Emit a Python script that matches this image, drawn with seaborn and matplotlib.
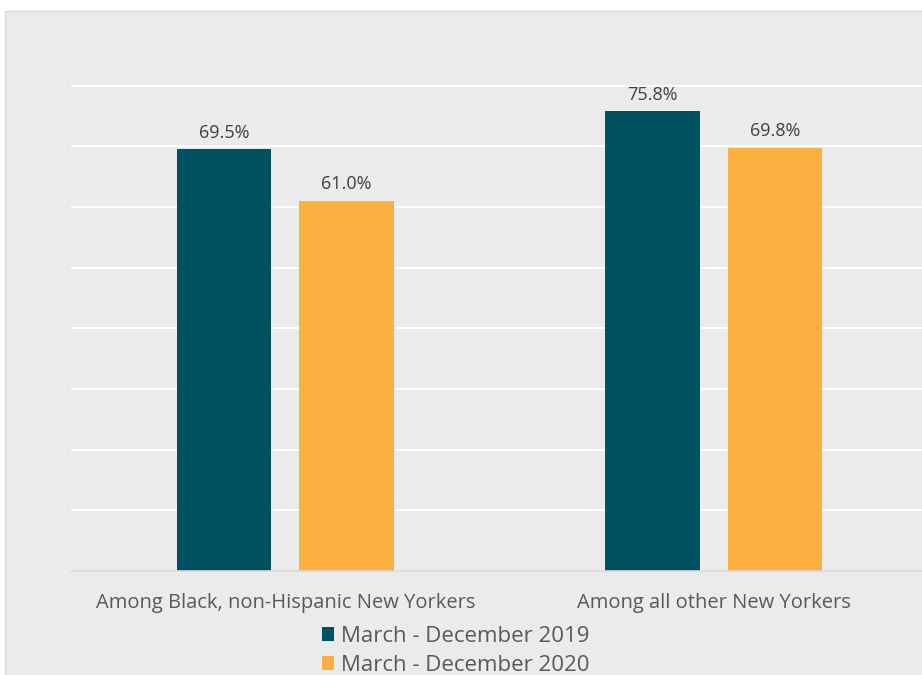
import matplotlib
matplotlib.use("Agg")
import matplotlib.pyplot as plt
from matplotlib.patches import Rectangle, Patch
import seaborn as sns
import pandas as pd

categories = ["Among Black, non-Hispanic New Yorkers", "Among all other New Yorkers"]
periods = ["March - December 2019", "March - December 2020"]
values_2019 = [69.5, 75.8]
values_2020 = [61.0, 69.8]
colors = ["#005161", "#FBB040"]

df = pd.DataFrame({
    "category": categories * 2,
    "period": [periods[0]] * 2 + [periods[1]] * 2,
    "value": values_2019 + values_2020,
})

sns.set_theme(style="white")
plt.rcParams["font.family"] = ["Open Sans", "DejaVu Sans"]

W, H = 922, 675
fig = plt.figure(figsize=(W / 100, H / 100), dpi=100)
fig.patch.set_facecolor("white")
bg = "#EBEBEB"
fig.add_artist(Rectangle((5 / W, -0.01), 1.0, (H - 11) / H + 0.01, transform=fig.transFigure,
                         facecolor=bg, edgecolor="#D9D9D9", linewidth=1.0, zorder=0))

ax = fig.add_axes([71 / W, 0.154, 857 / W, 0.7234])
ax.set_facecolor(bg)
sns.barplot(data=df, x="category", y="value", hue="period", palette=colors,
            width=0.573, gap=0.23, ax=ax, legend=False, linewidth=0, saturation=1)

ax.set_ylim(0, 80.5)
ax.set_xlim(-0.5, 1.5)
ax.set_yticks(range(0, 81, 10))
ax.set_yticklabels([])
ax.yaxis.grid(True, color="white", linewidth=1.5)
ax.set_axisbelow(True)
for s in ["top", "right", "left"]:
    ax.spines[s].set_visible(False)
ax.spines["bottom"].set_color("#D9D9D9")
ax.spines["bottom"].set_linewidth(1.2)
ax.tick_params(axis="y", length=0)
ax.tick_params(axis="x", length=0, pad=15.5, labelsize=14.5, labelcolor="#595959")
ax.set_xlabel("")
ax.set_ylabel("")

for cont in ax.containers:
    ax.bar_label(cont, fmt="%.1f%%", padding=5.5, fontsize=13, color="#404040")

handles = [Patch(facecolor=c, edgecolor="none") for c in colors]
fig.legend(handles, periods, loc="upper left", bbox_to_anchor=(322 / W, 1 - 626 / H),
           frameon=False, borderpad=0, borderaxespad=0, handlelength=0.55, handleheight=0.55,
           handletextpad=0.3, labelspacing=0.36, fontsize=16, labelcolor="#595959")

fig.savefig("out.png", dpi=100, facecolor="white")
